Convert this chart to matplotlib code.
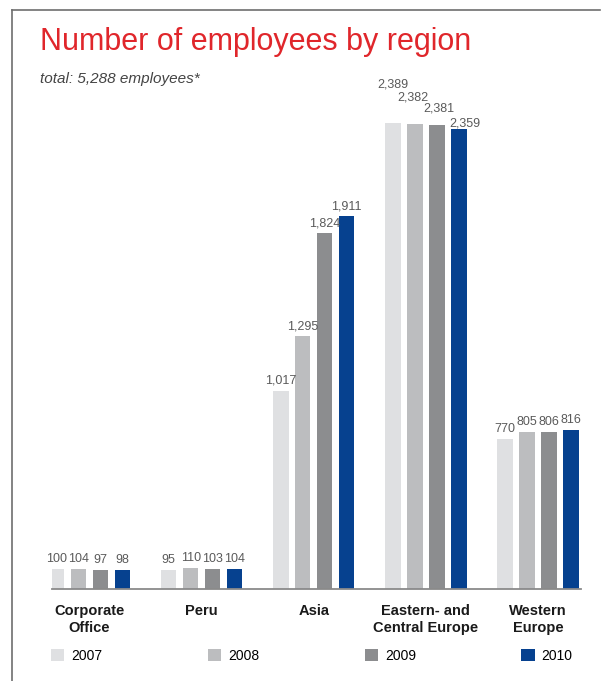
import matplotlib.pyplot as plt
from matplotlib.lines import Line2D

# Data
regions = ['Corporate\nOffice', 'Peru', 'Asia', 'Eastern- and\nCentral Europe', 'Western\nEurope']
years = ['2007', '2008', '2009', '2010']
emp_2007 = [100, 95, 1017, 2389, 770]
emp_2008 = [104, 110, 1295, 2382, 805]
emp_2009 = [97, 103, 1824, 2381, 806]
emp_2010 = [98, 104, 1911, 2359, 816]
series = [emp_2007, emp_2008, emp_2009, emp_2010]

colors = ['#dfe0e2', '#bcbdbf', '#8c8d8f', '#06418f']
narrow = ['Liberation Sans Narrow', 'Liberation Sans', 'DejaVu Sans']
plain = ['Liberation Sans', 'DejaVu Sans']

# label stagger (pixels) for the crowded Eastern Europe group
lift_px = {3: [29, 17, 6, -5]}
shift_px = {3: [0, -2, 2, 6]}

W, H = 605, 681
fig = plt.figure(figsize=(W / 100, H / 100), dpi=100)
ax = fig.add_axes([52 / W, 1 - 589 / H, (581 - 52) / W, (589 - 100) / H])

step = 0.196
width = 0.138
x = list(range(len(regions)))
for k, vals in enumerate(series):
    pos = [i + (k - 1.5) * step for i in x]
    ax.bar(pos, vals, width=width, color=colors[k], label=years[k], zorder=2)
    for i, (px, v) in enumerate(zip(pos, vals)):
        dy = 4 + lift_px.get(i, [0, 0, 0, 0])[k]
        dx = shift_px.get(i, [0, 0, 0, 0])[k]
        ax.annotate(f'{v:,}', (px, v), xytext=(dx * 0.72, dy * 0.72),
                    textcoords='offset points', ha='center', va='bottom',
                    fontsize=9, color='#5a5a5a', family=narrow)

ax.set_xlim(-0.3344, 4.3835)
ax.set_ylim(0, 2507)
ax.set_yticks([])
ax.set_xticks(x)
ax.set_xticklabels(regions, fontsize=10.5, fontweight='bold', family=narrow,
                   color='#1a1a1a', linespacing=1.25)
ax.tick_params(axis='x', length=0, pad=11)
for s in ['top', 'left', 'right']:
    ax.spines[s].set_visible(False)
ax.spines['bottom'].set_color('#8a8a8a')
ax.spines['bottom'].set_linewidth(1.3)

# title and subtitle
fig.text(40 / W, 1 - 42 / H, 'Number of employees by region', fontsize=22,
         color='#e0262b', family=plain, va='center', ha='left')
fig.text(40 / W, 1 - 79 / H, 'total: 5,288 employees*', fontsize=11,
         style='italic', color='#444444', family=plain, va='center', ha='left')

# frame lines
fig.add_artist(Line2D([12 / W, 12 / W], [0, 1 - 10 / H], color='#6e6e6e', lw=1.2))
fig.add_artist(Line2D([12 / W, 600 / W], [1 - 10 / H, 1 - 10 / H], color='#6e6e6e', lw=1.2))

handles, labels = ax.get_legend_handles_labels()
fig.legend(handles, labels, ncol=4, loc='center left',
           bbox_to_anchor=(51 / W, 1 - 656 / H), frameon=False,
           prop={'family': plain, 'size': 10}, handlelength=0.95,
           handleheight=1.0, handletextpad=0.5, columnspacing=7.6,
           borderpad=0, borderaxespad=0)

fig.savefig('out.png', dpi=100)
